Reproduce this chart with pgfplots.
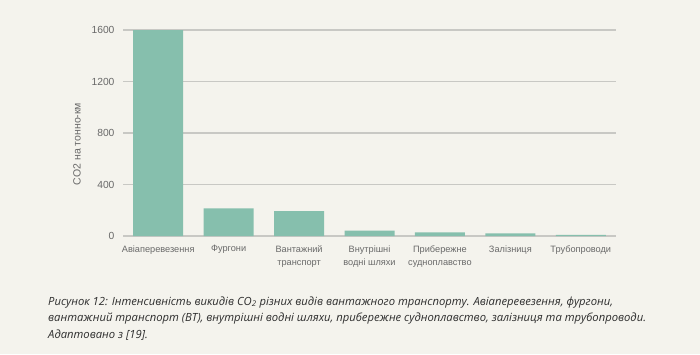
\documentclass[border=0pt]{standalone}
\usepackage{pgfplots}
\pgfplotsset{compat=1.18}
\usepackage{fontspec}
\setmainfont{Liberation Sans}
\newfontfamily\capfont{Open Sans}
\definecolor{bg}{RGB}{244,243,237}
\definecolor{barc}{RGB}{134,191,173}
\definecolor{gridc}{RGB}{200,200,196}
\definecolor{tickc}{RGB}{105,105,105}
\definecolor{capc}{RGB}{45,45,45}
\begin{document}
\begin{tikzpicture}[x=1pt,y=1pt]
\fill[bg] (0,0) rectangle (700,354);
\useasboundingbox (0,0) rectangle (700,354);
\begin{axis}[
  at={(123pt,118pt)}, anchor=south west,
  scale only axis, width=493pt, height=206pt,
  xmin=-0.5, xmax=6.5, ymin=0, ymax=1600,
  ybar, bar width=50pt,
  axis line style={draw=none},
  major tick length=0pt,
  ytick={0,400,800,1200,1600},
  yticklabels={0,400,800,1200,1600},
  ymajorgrids, grid style={gridc, line width=1.3pt},
  yticklabel style={font=\fontsize{10.3}{12}\selectfont, text=tickc, xshift=-5pt},
  xtick=data,
  xticklabels={Авіаперевезення,Фургони,{Вантажний\\транспорт},{Внутрішні\\водні шляхи},{Прибережне\\судноплавство},Залізниця,Трубопроводи},
  xticklabel style={font=\fontsize{9.2}{13}\selectfont, text=tickc, align=center, yshift=-6pt},
  clip=false,
]
\addplot[fill=barc, draw=none] coordinates {(0,1600) (1,215) (2,194) (3,41) (4,29) (5,21) (6,8)};
\end{axis}
\node[rotate=90, font=\fontsize{10.5}{12}\selectfont, text=tickc] at (77,210) {CO2 на тонно-км};
\begin{scope}[every node/.style={anchor=base west, inner sep=0pt, font=\capfont\itshape\fontsize{11.25}{14}\selectfont, text=capc}]
\node at (48,49) {Рисунок 12: Інтенсивність викидів CO\textsubscript{2} різних видів вантажного транспорту. Авіаперевезення, фургони,};
\node at (48,32.5) {вантажний транспорт (ВТ), внутрішні водні шляхи, прибережне судноплавство, залізниця та трубопроводи.};
\node at (48,16) {Адаптовано з [19].};
\end{scope}
\end{tikzpicture}
\end{document}
